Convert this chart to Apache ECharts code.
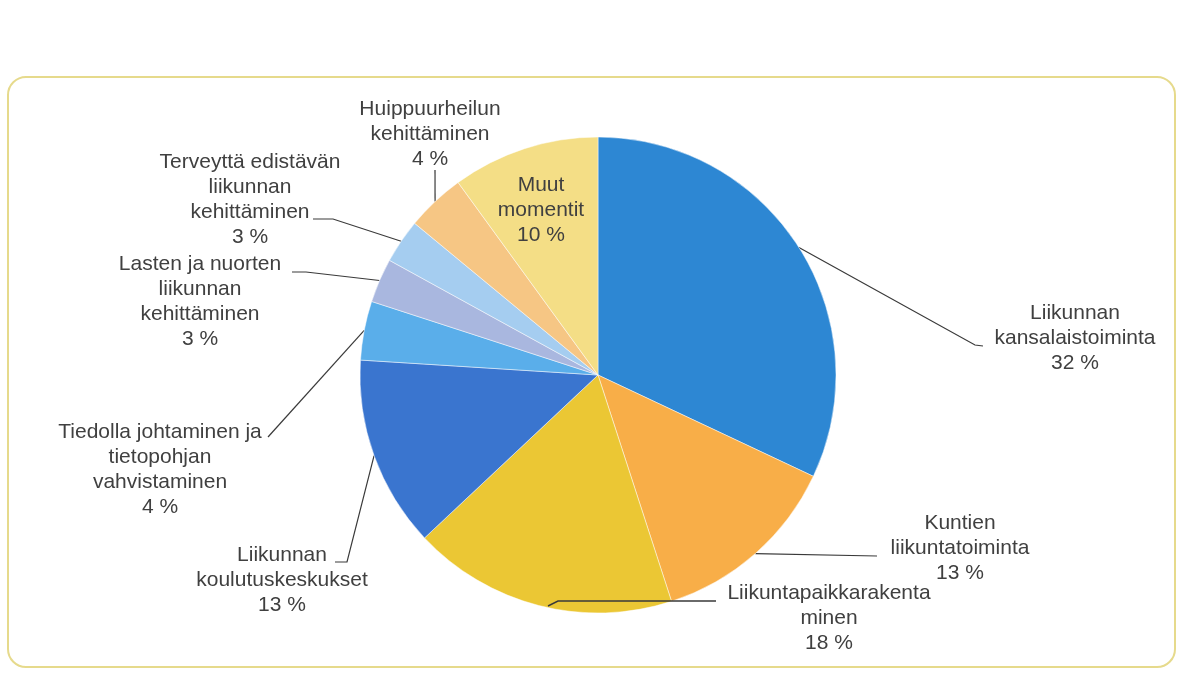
<!DOCTYPE html>
<html>
<head>
<meta charset="utf-8">
<script src="https://cdn.jsdelivr.net/npm/echarts@6/dist/echarts.min.js"></script>
<style>
html,body{margin:0;padding:0;background:#fff;}
#chart{width:1182px;height:677px;}
</style>
</head>
<body>
<div id="chart"></div>
<script>
// Data
const categories = [
  'Liikunnan\nkansalaistoiminta',
  'Kuntien\nliikuntatoiminta',
  'Liikuntapaikkarakenta\nminen',
  'Liikunnan\nkoulutuskeskukset',
  'Tiedolla johtaminen ja\ntietopohjan\nvahvistaminen',
  'Lasten ja nuorten\nliikunnan\nkehittäminen',
  'Terveyttä edistävän\nliikunnan\nkehittäminen',
  'Huippuurheilun\nkehittäminen',
  'Muut\nmomentit'
];
const values = [32, 13, 18, 13, 4, 3, 3, 4, 10];

// Styles / layout
const colors = ['#2D87D3','#F8AE48','#EBC734','#3A75CF','#5AAEEA','#A9B7DF','#A5CDF0','#F6C684','#F4DE86'];
const CX = 598, CY = 375, R = 238;
// label block centres and leader-line bends (null = no line); overlay = draw leader on top of the pie
const labelPos = [
  {x:1075, y:338, pts:[[975,345],[983,346]]},
  {x:960,  y:548, pts:[[877,556]]},
  {x:829,  y:618, pts:null, overlay:[[548,606],[558,601],[716,601]]},
  {x:282,  y:580, pts:[[347,562],[335,562]]},
  {x:160,  y:470, pts:[[268,437]]},
  {x:200,  y:302, pts:[[306,272],[292,272]]},
  {x:250,  y:200, pts:[[333,219],[313,219]]},
  {x:430,  y:134, pts:[[435,170]]},
  {x:541,  y:210, pts:null}
];

const total = values.reduce((a,b)=>a+b,0);
const midAngles = [];
let acc = 0;
values.forEach(v => { midAngles.push((acc + v/2) / total * 2 * Math.PI); acc += v; });

const data = categories.map((c,i)=>({name:c, value:values[i], itemStyle:{color:colors[i]}}));

const overlays = labelPos.filter(l=>l.overlay).map(l=>({
  type:'polyline',
  shape:{points:l.overlay},
  style:{stroke:'#3a3a3a',lineWidth:1.4,fill:null},
  z:100
}));

const chart = echarts.init(document.getElementById('chart'));
chart.setOption({
  animation:false,
  backgroundColor:'#fff',
  graphic:[{
    type:'rect',
    shape:{x:8,y:77,width:1167,height:590,r:18},
    style:{fill:'none',stroke:'#E6DA8C',lineWidth:2},
    z:-1
  }].concat(overlays),
  series:[{
    type:'pie',
    center:[CX,CY],
    radius:R,
    startAngle:90,
    clockwise:true,
    data:data,
    itemStyle:{borderColor:'rgba(255,255,255,0.6)',borderWidth:0.8},
    label:{
      show:true,
      position:'outside',
      formatter:p=>p.name+'\n'+p.value+' %',
      fontFamily:'Liberation Sans, Arial, sans-serif',
      fontSize:21,
      lineHeight:25,
      color:'#404040',
      align:'center'
    },
    labelLine:{show:true,minTurnAngle:0,maxSurfaceAngle:180,lineStyle:{color:'#3a3a3a',width:1.2}},
    labelLayout:function(params){
      const i = params.dataIndex;
      const lp = labelPos[i];
      const a = midAngles[i];
      const start = [CX + R*Math.sin(a), CY - R*Math.cos(a)];
      const res = {x:lp.x, y:lp.y, align:'center', verticalAlign:'middle'};
      if(lp.pts){
        const p = [start].concat(lp.pts);
        while(p.length<3) p.push(p[p.length-1]);
        res.labelLinePoints = p;
      } else {
        res.labelLinePoints = [start,start,start];
      }
      return res;
    }
  }]
});
</script>
</body>
</html>
